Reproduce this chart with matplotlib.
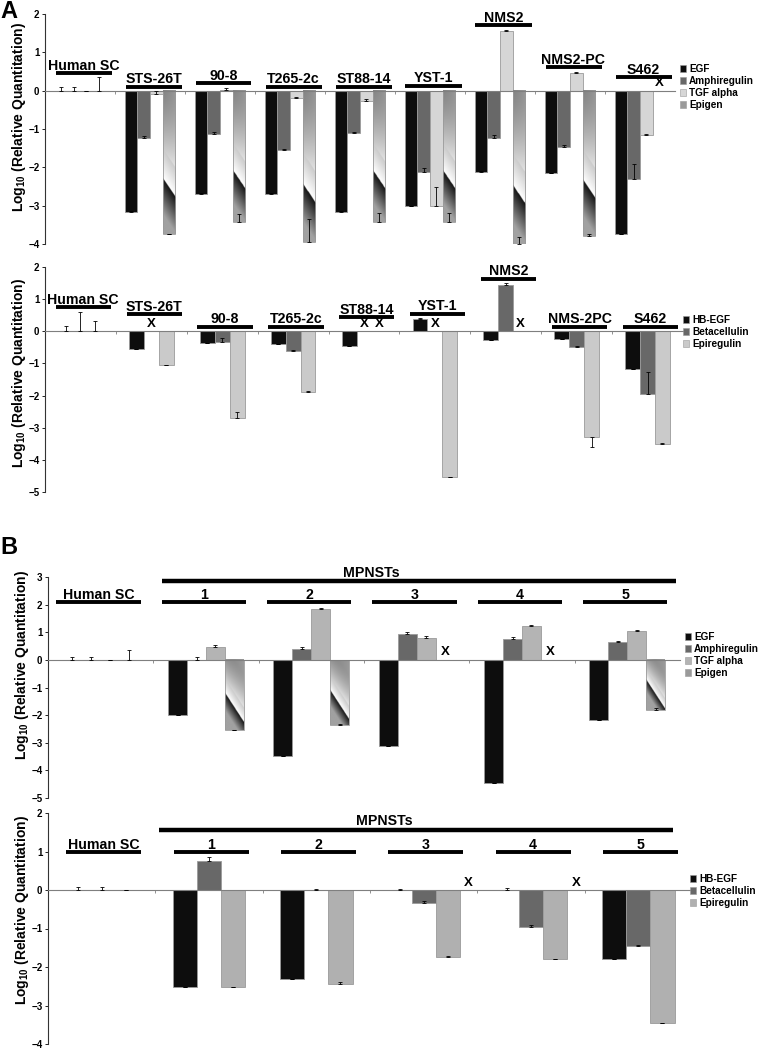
import numpy as np
import matplotlib.pyplot as plt
from matplotlib.patches import Patch

plt.rcParams['font.family'] = ['Liberation Sans', 'DejaVu Sans']
plt.rcParams['font.weight'] = 'bold'
plt.rcParams['mathtext.fontset'] = 'custom'
plt.rcParams['mathtext.bf'] = 'Liberation Sans:bold'
plt.rcParams['mathtext.rm'] = 'Liberation Sans:bold'
plt.rcParams['mathtext.default'] = 'bf'

nan = np.nan

# ---- A, top: EGF / Amphiregulin / TGF alpha / Epigen in cell lines
lines_a1 = ['Human SC', 'STS-26T', '90-8', 'T265-2c', 'ST88-14', 'YST-1', 'NMS2', 'NMS2-PC', 'S462']
names_a1 = ['EGF', 'Amphiregulin', 'TGF alpha', 'Epigen']
egf_a1 = [0, -3.16, -2.70, -2.70, -3.16, -3.02, -2.11, -2.16, -3.75]
areg_a1 = [0, -1.23, -1.14, -1.55, -1.10, -2.11, -1.23, -1.47, -2.31]
tgfa_a1 = [0, -0.09, 0.02, -0.20, -0.26, -3.02, 1.55, 0.46, -1.15]
epgn_a1 = [0, -3.75, -3.43, -3.95, -3.43, -3.43, -4.00, -3.79, nan]
egf_a1_err = [0.10, 0.02, 0.02, 0.02, 0.03, 0.02, 0.02, 0.02, 0.02]
areg_a1_err = [0.10, 0.05, 0.07, 0.03, 0.03, 0.08, 0.08, 0.06, 0.40]
tgfa_a1_err = [0.0, 0.07, 0.06, 0.03, 0.03, 0.52, 0.03, 0.04, 0.03]
epgn_a1_err = [0.35, 0.02, 0.20, 0.59, 0.24, 0.24, 0.17, 0.06, nan]
labels_y_a1 = [0.45, 0.10, 0.19, 0.10, 0.10, 0.13, 1.71, 0.61, 0.35]

# ---- A, bottom: HB-EGF / Betacellulin / Epiregulin in cell lines
lines_a2 = ['Human SC', 'STS-26T', '90-8', 'T265-2c', 'ST88-14', 'YST-1', 'NMS2', 'NMS-2PC', 'S462']
names_a2 = ['HB-EGF', 'Betacellulin', 'Epiregulin']
hbegf_a2 = [0, -0.54, -0.35, -0.38, -0.46, 0.37, -0.28, -0.25, -1.18]
btc_a2 = [0, nan, -0.33, -0.62, nan, nan, 1.45, -0.49, -1.96]
ereg_a2 = [0, -1.06, -2.69, -1.89, nan, -4.53, nan, -3.28, -3.52]
hbegf_a2_err = [0.16, 0, 0, 0, 0, 0.03, 0, 0, 0]
btc_a2_err = [0.60, nan, 0.13, 0.03, nan, nan, 0.05, 0.03, 0.69]
ereg_a2_err = [0.31, 0.02, 0.17, 0.02, nan, 0.01, nan, 0, 0.03]
ereg_a2_err_low = [0, 0, 0, 0, nan, 0, nan, 0.31, 0]
labels_y_a2 = [0.75, 0.53, 0.13, 0.13, 0.43, 0.55, 1.64, 0.13, 0.13]

# ---- B, top: tumours
groups_b = ['Human SC', '1', '2', '3', '4', '5']
egf_b1 = [0, -1.98, -3.49, -3.10, -4.44, -2.17]
areg_b1 = [0, 0, 0.40, 0.92, 0.76, 0.64]
tgfa_b1 = [0, 0.48, 1.83, 0.80, 1.22, 1.04]
epgn_b1 = [0, -2.55, -2.34, nan, nan, -1.83]
egf_b1_err = [0.10, 0, 0, 0, 0, 0]
areg_b1_err = [0.10, 0.10, 0.05, 0.08, 0.08, 0.04]
tgfa_b1_err = [0, 0.06, 0.05, 0.05, 0.05, 0.05]
epgn_b1_err = [0.35, 0.02, 0.02, nan, nan, 0.10]

# ---- B, bottom
hbegf_b2 = [0, -2.53, -2.30, 0, 0, -1.80]
btc_b2 = [0, 0.75, 0, -0.33, -0.97, -1.46]
ereg_b2 = [0, -2.53, -2.43, -1.74, -1.80, -3.46]
hbegf_b2_err = [0.08, 0, 0, 0.02, 0.06, 0]
btc_b2_err = [0.08, 0.10, 0.02, 0.05, 0.05, 0.02]
ereg_b2_err = [0, 0.02, 0.03, 0.02, 0.02, 0.01]
extra_x_b2 = [3, 4]   # groups with an "X" after the bars

W, H = 760, 1050
fig = plt.figure(figsize=(W / 100, H / 100), dpi=100)


def px_axes(left, right, top, bottom):
    return fig.add_axes([left / W, 1 - bottom / H, (right - left) / W, (bottom - top) / H])


def gradient_fill(ax, rect):
    x0, w = rect.get_x(), rect.get_width()
    y0, h = rect.get_y(), rect.get_height()
    ylo, yhi = min(y0, y0 + h), max(y0, y0 + h)
    if yhi - ylo < 1e-6:
        return
    p0 = ax.transData.transform((x0, ylo))
    p1 = ax.transData.transform((x0 + w, yhi))
    wpx, hpx = p1 - p0
    k = 1.5 * wpx / hpx
    u = np.linspace(0, 1, 40)[None, :]
    v = np.linspace(0, 1, 300)[:, None]
    s = v - k * (u - 0.5)
    s0 = 0.68
    light = 0.5 + 0.5 * np.clip(s / s0, 0, 1) ** 1.5 + 0.1 * u * (s < s0 * 0.7)
    dark = 0.08 + 0.55 * np.clip((s - s0) / 0.25, 0, 1)
    img = np.clip(np.where(s < s0, light, dark), 0, 1)
    ax.imshow(img, cmap='gray', vmin=0, vmax=1, extent=(x0, x0 + w, ylo, yhi),
              aspect='auto', origin='upper', interpolation='bilinear', zorder=1.5)


def draw_panel(ax, series, errs, colors, ylim, bar_w, gradient=False, low_errs=None):
    n = len(series[0])
    m = len(series)
    x = np.arange(n)
    ax.set_xlim(-0.5, n - 0.5)
    ax.set_ylim(*ylim)
    for j, (vals, err, col) in enumerate(zip(series, errs, colors)):
        pos = x + (j - (m - 1) / 2) * bar_w
        vals = np.array(vals, dtype=float)
        shown = np.nan_to_num(vals)
        is_grad = gradient and j == m - 1
        bars = ax.bar(pos, shown, bar_w, color='none' if is_grad else col,
                      edgecolor='#9a9a9a', linewidth=0.6, zorder=2 if is_grad else 1)
        if is_grad:
            for b in bars:
                gradient_fill(ax, b)
        err = np.array(err, dtype=float)
        low = np.zeros(n) if low_errs is None or low_errs[j] is None else np.nan_to_num(low_errs[j])
        ok = ~np.isnan(vals)
        ax.errorbar(pos[ok], shown[ok], yerr=[low[ok], np.nan_to_num(err)[ok]], fmt='none',
                    ecolor='black', elinewidth=0.6, capsize=1.3, capthick=0.6, zorder=3)
        for i in np.where(~ok)[0]:
            ax.annotate('X', (pos[i], 0), xytext=(0, 1), textcoords='offset points',
                        ha='center', va='bottom', fontsize=9.5, fontweight='bold')
    ax.set_xlim(-0.5, n - 0.5)
    ax.set_ylim(*ylim)
    for side in ['top', 'right']:
        ax.spines[side].set_visible(False)
    ax.spines['bottom'].set_position(('data', 0))
    ax.spines['bottom'].set_color('#7f7f7f')
    ax.spines['bottom'].set_linewidth(0.8)
    ax.spines['left'].set_color('#333333')
    ax.spines['left'].set_linewidth(0.8)
    ax.set_xticks(x[:-1] + 0.5)
    ax.set_xticklabels([])
    ax.tick_params(axis='x', length=2, width=0.6, color='#7f7f7f')
    ax.set_yticks(np.arange(ylim[0], ylim[1] + 1))
    ax.tick_params(axis='y', length=2.5, width=0.6, labelsize=7, pad=1.5)
    for t in ax.get_yticklabels():
        t.set_fontweight('bold')
    ax.set_ylabel('Log$_{10}$ (Relative Quantitation)', fontsize=10, fontweight='bold')
    ax.set_facecolor('none')


def group_labels(ax, labels, ys, width, dx=0.0):
    for i, (lab, y) in enumerate(zip(labels, ys)):
        c = i + dx
        ax.plot([c - width / 2, c + width / 2], [y, y], color='black', lw=2.8,
                solid_capstyle='butt', clip_on=False, zorder=4)
        ax.annotate(lab, (c, y), xytext=(0, 2.6), textcoords='offset points',
                    ha='center', va='baseline', fontsize=10.2, fontweight='bold',
                    annotation_clip=False)


def legend(ax, names, colors, xpx, ypx):
    handles = [Patch(facecolor=c, edgecolor='#9a9a9a', linewidth=0.4) for c in colors]
    ax.legend(handles, names, loc='upper left', bbox_to_anchor=(xpx / W, 1 - ypx / H),
              bbox_transform=fig.transFigure, frameon=False,
              prop={'weight': 'bold', 'size': 7.2}, handlelength=0.6, handleheight=0.6,
              handletextpad=0.3, labelspacing=0.2, borderaxespad=0, borderpad=0)


# A top
ax1 = px_axes(45, 675, 14, 244)
cols_a1 = ['#0d0d0d', '#686868', '#d6d6d6', '#bdbdbd']
draw_panel(ax1, [egf_a1, areg_a1, tgfa_a1, epgn_a1], [egf_a1_err, areg_a1_err, tgfa_a1_err, epgn_a1_err],
           cols_a1, (-4, 2), 0.18, gradient=True)
group_labels(ax1, lines_a1, labels_y_a1, 0.8, 0.05)
legend(ax1, names_a1, ['#0d0d0d', '#686868', '#d6d6d6', '#9a9a9a'], 680, 64)
ax1.yaxis.set_label_coords(-0.027, 0.55)

# A bottom
ax2 = px_axes(45, 683, 267, 492)
cols_a2 = ['#0d0d0d', '#686868', '#cacaca']
draw_panel(ax2, [hbegf_a2, btc_a2, ereg_a2], [hbegf_a2_err, btc_a2_err, ereg_a2_err],
           cols_a2, (-5, 2), 0.21, low_errs=[None, None, ereg_a2_err_low])
group_labels(ax2, lines_a2, labels_y_a2, 0.78, 0.04)
legend(ax2, names_a2, cols_a2, 683, 315)
ax2.yaxis.set_label_coords(-0.027, 0.53)

# B top
ax3 = px_axes(48, 680, 577, 798)
cols_b1 = ['#0d0d0d', '#686868', '#b4b4b4', '#9a9a9a']
draw_panel(ax3, [egf_b1, areg_b1, tgfa_b1, epgn_b1], [egf_b1_err, areg_b1_err, tgfa_b1_err, epgn_b1_err],
           cols_b1, (-5, 3), 0.18, gradient=True)
group_labels(ax3, groups_b, [2.09] * len(groups_b), 0.8, -0.02)
ax3.plot([0.58, 5.46], [2.85, 2.85], color='black', lw=3.2, solid_capstyle='butt', clip_on=False)
ax3.annotate('MPNSTs', (2.57, 2.85), xytext=(0, 3), textcoords='offset points', ha='center',
             va='baseline', fontsize=10.2, fontweight='bold', annotation_clip=False)
legend(ax3, names_a1, cols_b1, 685, 632)
ax3.yaxis.set_label_coords(-0.027, 0.6)

# B bottom
ax4 = px_axes(48, 692, 813, 1044)
cols_b2 = ['#0d0d0d', '#686868', '#b0b0b0']
draw_panel(ax4, [hbegf_b2, btc_b2, ereg_b2], [hbegf_b2_err, btc_b2_err, ereg_b2_err],
           cols_b2, (-4, 2), 0.225)
group_labels(ax4, groups_b, [0.98] * len(groups_b), 0.7, 0.02)
ax4.plot([0.53, 5.32], [1.57, 1.57], color='black', lw=3.2, solid_capstyle='butt', clip_on=False)
ax4.annotate('MPNSTs', (2.63, 1.57), xytext=(0, 3), textcoords='offset points', ha='center',
             va='baseline', fontsize=10.2, fontweight='bold', annotation_clip=False)
for g in extra_x_b2:
    ax4.annotate('X', (g + 0.42, 0), xytext=(0, 1), textcoords='offset points',
                 ha='center', va='bottom', fontsize=9.5, fontweight='bold')
legend(ax4, names_a2, cols_b2, 690, 874)
ax4.yaxis.set_label_coords(-0.026, 0.58)

fig.text(0.0, 1.0, 'A', fontsize=17, fontweight='bold', va='top', ha='left')
fig.text(0.0, 1 - 536 / H, 'B', fontsize=17, fontweight='bold', va='top', ha='left')

fig.savefig('out.png', dpi=100)
